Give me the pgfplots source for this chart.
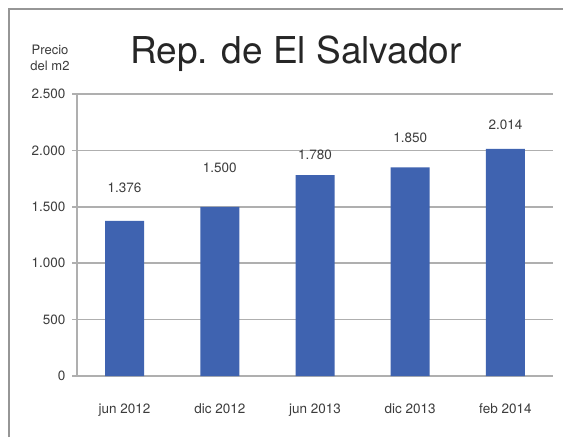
\documentclass[border=0pt]{standalone}
\usepackage{fontspec}
\setmainfont{TeX Gyre Heros}
\usepackage{pgfplots}
\pgfplotsset{compat=1.18}
\definecolor{barblue}{RGB}{63,99,176}
\definecolor{gridgray}{RGB}{175,175,175}
\definecolor{framegray}{RGB}{150,150,150}
\definecolor{txtgray}{RGB}{60,60,60}
\begin{document}
\begin{tikzpicture}
\path[use as bounding box, fill=white] (0,0) rectangle (563pt,-437pt);
\draw[framegray, line width=2pt] (9pt,-437pt) -- (9pt,-9pt) -- (563pt,-9pt);
\node[anchor=base, inner sep=0pt, text=black!85, font=\fontsize{37}{37}\selectfont] at (296pt,-63pt) {Rep. de El Salvador};
\node[align=center, inner sep=0pt, text=txtgray, font=\fontsize{13}{16}\selectfont] at (50pt,-58pt) {Precio\\del m2};
\begin{axis}[
  at={(77pt,-376pt)}, anchor=south west,
  scale only axis, width=476pt, height=282pt,
  xmin=-0.5, xmax=4.5, ymin=0, ymax=2500,
  ytick={0,500,1000,1500,2000,2500},
  xtick={0,1,2,3,4},
  xticklabels={jun 2012, dic 2012, jun 2013, dic 2013, feb 2014},
  axis lines=left,
  axis line style={-, draw=gridgray, line width=1.5pt},
  ymajorgrids, grid style={draw=gridgray, line width=1.5pt},
  tick align=outside, major tick length=5pt,
  ytick style={draw=gridgray, line width=1.5pt},
  xtick style={draw=none},
  /pgf/number format/.cd, 1000 sep={.}, assume math mode=true,
  /pgfplots/.cd,
  yticklabel style={font=\fontsize{13.5}{14}\selectfont, text=txtgray, xshift=-3pt},
  xticklabel style={font=\fontsize{13.5}{14}\selectfont, text=txtgray, yshift=-19pt},
  clip=false,
  ybar, bar width=39pt, bar shift=0pt,
]
\addplot[fill=barblue, draw=none] coordinates {(0,1376) (1,1500) (2,1780) (3,1850) (4,2014)};
\node[text=txtgray, font=\fontsize{13.5}{14}\selectfont] at (axis cs:0,1667) {1.376};
\node[text=txtgray, font=\fontsize{13.5}{14}\selectfont] at (axis cs:1,1844) {1.500};
\node[text=txtgray, font=\fontsize{13.5}{14}\selectfont] at (axis cs:2,1959) {1.780};
\node[text=txtgray, font=\fontsize{13.5}{14}\selectfont] at (axis cs:3,2110) {1.850};
\node[text=txtgray, font=\fontsize{13.5}{14}\selectfont] at (axis cs:4,2225) {2.014};
\end{axis}
\end{tikzpicture}
\end{document}
